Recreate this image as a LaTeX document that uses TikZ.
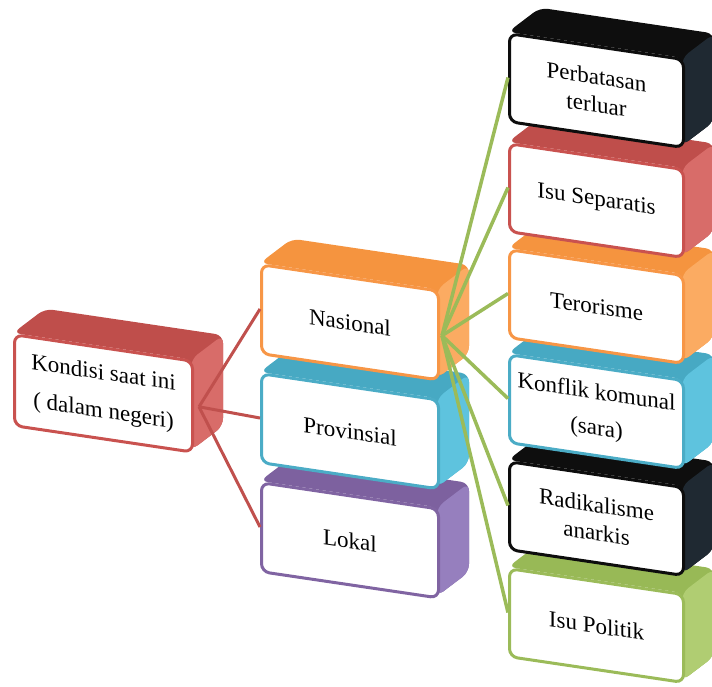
\documentclass[tikz,border=0pt]{standalone}
\usepackage{fontspec}
\setmainfont{Liberation Serif}

% palette: top face, side face and front border of each box
\definecolor{redTop}{HTML}{BF4E4B}\definecolor{redSide}{HTML}{D86C69}\definecolor{redEdge}{HTML}{C9524F}
\definecolor{orangeTop}{HTML}{F5943F}\definecolor{orangeSide}{HTML}{FBAB62}\definecolor{orangeEdge}{HTML}{F79646}
\definecolor{blueTop}{HTML}{47A9C3}\definecolor{blueSide}{HTML}{5EC3DE}\definecolor{blueEdge}{HTML}{4BACC6}
\definecolor{purpleTop}{HTML}{7D619F}\definecolor{purpleSide}{HTML}{967FBE}\definecolor{purpleEdge}{HTML}{8064A2}
\definecolor{greenTop}{HTML}{98B956}\definecolor{greenSide}{HTML}{B0CD72}\definecolor{greenEdge}{HTML}{9BBB59}
\definecolor{blackTop}{HTML}{0E0E0E}\definecolor{blackSide}{HTML}{1F2932}\definecolor{blackEdge}{HTML}{0D0D0D}
\definecolor{linkred}{HTML}{C0504D}
\definecolor{linkgreen}{HTML}{9BBB59}

% a tilted 3-D block: #1 name, #2 front top-left corner, #3 width, #4 height,
% #5 colour family, #6 label
\newcommand{\cubebox}[6]{%
  \begin{scope}[shift={#2}, yslant=-0.148]
    \fill[#5Top, rounded corners=8pt]
      (0,0) -- (32,-29) -- (#3+32,-29) -- (#3+32,#4-29) -- (#3,#4) -- (#3,0) -- cycle;
    \fill[#5Side, rounded corners=8pt]
      (#3,0) -- (#3+32,-29) -- (#3+32,#4-29) -- (#3,#4) -- cycle;
    \node[face, draw=#5Edge, minimum width=#3pt, minimum height=#4pt, transform shape]
      (#1) at (0,0) {#6};
  \end{scope}}

\begin{document}
\begin{tikzpicture}[x=1pt, y=-1pt,
  face/.style={fill=white, line width=3pt, rounded corners=8pt, anchor=north west,
    inner sep=0pt, align=center, text=black, font=\fontsize{23}{26}\selectfont},
  redlink/.style={draw=linkred, line width=3pt},
  greenlink/.style={draw=linkgreen, line width=3.5pt}]
\useasboundingbox (0,0) rectangle (712,686);

% root
\cubebox{kondisi}{(13,333)}{178}{91}{red}{Kondisi saat ini\\[12pt]( dalam negeri)}

% levels, drawn from the bottom up
\cubebox{lokal}{(260,481)}{177}{89}{purple}{Lokal}
\cubebox{provinsial}{(260,372)}{177}{89}{blue}{Provinsial}
\cubebox{nasional}{(260,263)}{177}{89}{orange}{Nasional}

% national issues, drawn from the bottom up
\cubebox{politik}{(508,567)}{174}{88}{green}{Isu Politik}
\cubebox{radikal}{(508,460)}{174}{88}{black}{Radikalisme\\[2pt]anarkis}
\cubebox{konflik}{(508,353)}{174}{88}{blue}{Konflik komunal\\[10pt](sara)}
\cubebox{teror}{(508,248)}{174}{88}{orange}{Terorisme}
\cubebox{separatis}{(508,142)}{174}{88}{red}{Isu Separatis}
\cubebox{batas}{(508,32)}{174}{88}{black}{Perbatasan\\[2pt]terluar}

% connectors
\foreach \t in {nasional,provinsial,lokal}
  \draw[redlink] ([xshift=5pt]kondisi.east) -- (\t.west);
\foreach \t in {batas,separatis,teror,konflik,radikal,politik}
  \draw[greenlink] ([xshift=2pt]nasional.east) -- (\t.west);
\end{tikzpicture}
\end{document}
